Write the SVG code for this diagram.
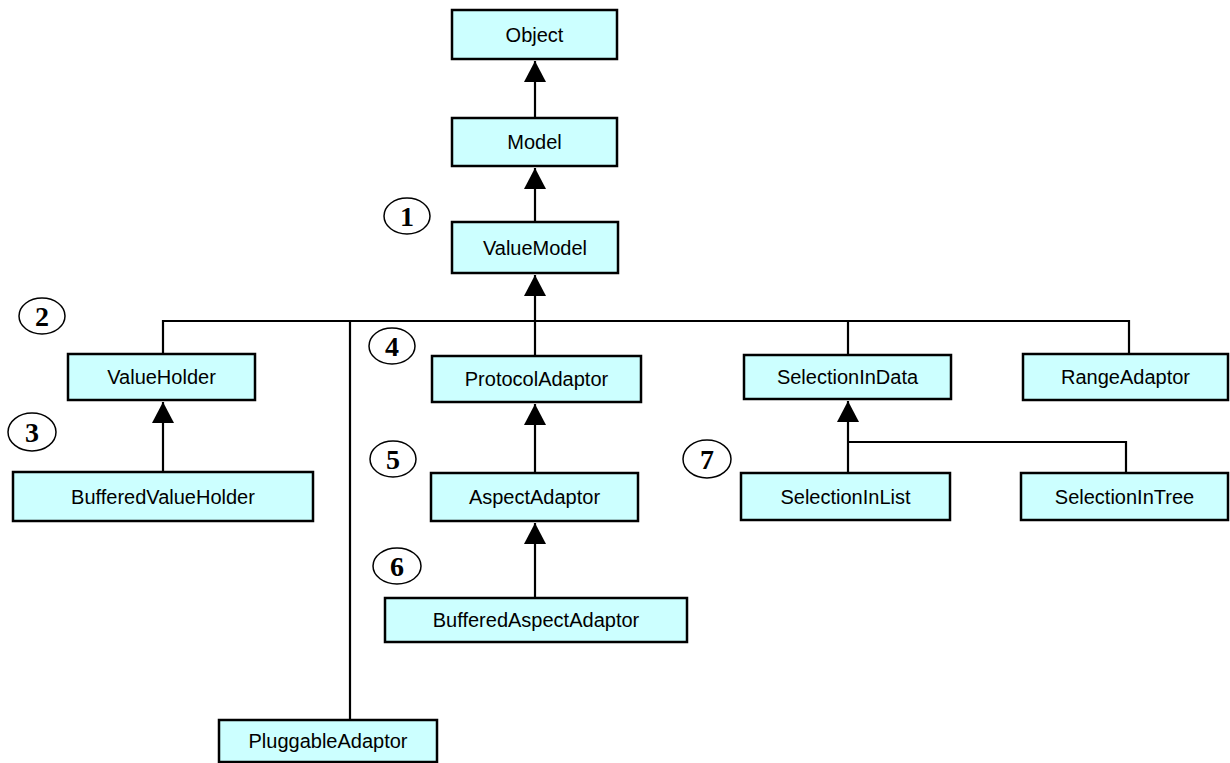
<svg xmlns="http://www.w3.org/2000/svg" width="1230" height="763" viewBox="0 0 1230 763">
  <style>
    .box rect { fill: #ccffff; stroke: #000; stroke-width: 2.5; }
    .box text { font-family: "Liberation Sans", Arial, sans-serif; font-size: 20px; fill: #000; text-anchor: middle; }
    .tag ellipse { fill: none; stroke: #000; stroke-width: 1.5; }
    .tag text { font-family: "Liberation Serif", "Times New Roman", serif; font-weight: bold; font-size: 28px; fill: #000; text-anchor: middle; }
    .wire { fill: none; stroke: #000; stroke-width: 2.2; }
    .inherit { marker-end: url(#tri); }
  </style>
  <defs>
    <marker id="tri" viewBox="0 0 21 22" refX="21" refY="11" markerWidth="21" markerHeight="22" markerUnits="userSpaceOnUse" orient="auto">
      <path d="M0,0 L21,11 L0,22 z" fill="#000"/>
    </marker>
  </defs>

  <rect width="1230" height="763" fill="#fff"/>

  <!-- connectors -->
  <g id="connectors">
    <line class="wire inherit" x1="535" y1="118" x2="535" y2="61"/>
    <line class="wire inherit" x1="535" y1="222" x2="535" y2="168"/>
    <line class="wire inherit" x1="535" y1="321" x2="535" y2="275"/>
    <polyline class="wire" points="163,354 163,321 1129,321 1129,354"/>
    <line class="wire" x1="535" y1="321" x2="535" y2="356"/>
    <line class="wire" x1="350" y1="321" x2="350" y2="720"/>
    <line class="wire" x1="848" y1="321" x2="848" y2="355"/>
    <line class="wire inherit" x1="163" y1="472" x2="163" y2="402"/>
    <line class="wire inherit" x1="535" y1="473" x2="535" y2="404"/>
    <line class="wire inherit" x1="535" y1="598" x2="535" y2="523"/>
    <line class="wire inherit" x1="848" y1="473" x2="848" y2="401"/>
    <polyline class="wire" points="848,442 1126,442 1126,473"/>
  </g>

  <!-- classes -->
  <g id="Object" class="box"><rect x="452" y="10" width="165" height="49"/><text x="534.5" y="41.5">Object</text></g>
  <g id="Model" class="box"><rect x="452" y="118" width="165" height="48"/><text x="534.5" y="149">Model</text></g>
  <g id="ValueModel" class="box"><rect x="452" y="222" width="166" height="51"/><text x="535" y="254.5">ValueModel</text></g>
  <g id="ValueHolder" class="box"><rect x="68" y="354" width="187" height="46"/><text x="161.5" y="384">ValueHolder</text></g>
  <g id="BufferedValueHolder" class="box"><rect x="13" y="472" width="300" height="49"/><text x="163" y="503.5">BufferedValueHolder</text></g>
  <g id="ProtocolAdaptor" class="box"><rect x="432" y="356" width="209" height="46"/><text x="536.5" y="386">ProtocolAdaptor</text></g>
  <g id="AspectAdaptor" class="box"><rect x="431" y="473" width="207" height="48"/><text x="534.5" y="504">AspectAdaptor</text></g>
  <g id="BufferedAspectAdaptor" class="box"><rect x="385" y="598" width="302" height="44"/><text x="536" y="627">BufferedAspectAdaptor</text></g>
  <g id="PluggableAdaptor" class="box"><rect x="219" y="720" width="218" height="42"/><text x="328" y="748">PluggableAdaptor</text></g>
  <g id="SelectionInData" class="box"><rect x="744" y="355" width="207" height="44"/><text x="847.5" y="384">SelectionInData</text></g>
  <g id="RangeAdaptor" class="box"><rect x="1023" y="354" width="205" height="46"/><text x="1125.5" y="384">RangeAdaptor</text></g>
  <g id="SelectionInList" class="box"><rect x="741" y="473" width="209" height="47"/><text x="845.5" y="503.5">SelectionInList</text></g>
  <g id="SelectionInTree" class="box"><rect x="1021" y="473" width="207" height="47"/><text x="1124.5" y="503.5">SelectionInTree</text></g>

  <!-- numbered callouts -->
  <g id="tag1" class="tag"><ellipse cx="407" cy="216" rx="23" ry="18"/><text x="407" y="226">1</text></g>
  <g id="tag2" class="tag"><ellipse cx="42" cy="316" rx="23" ry="18"/><text x="42" y="326">2</text></g>
  <g id="tag3" class="tag"><ellipse cx="32" cy="432" rx="24" ry="19"/><text x="32" y="442">3</text></g>
  <g id="tag4" class="tag"><ellipse cx="392" cy="346" rx="23" ry="18"/><text x="392" y="356">4</text></g>
  <g id="tag5" class="tag"><ellipse cx="393" cy="459" rx="23" ry="18"/><text x="393" y="469">5</text></g>
  <g id="tag6" class="tag"><ellipse cx="397" cy="566" rx="24" ry="18"/><text x="397" y="576">6</text></g>
  <g id="tag7" class="tag"><ellipse cx="707" cy="459" rx="24" ry="19"/><text x="707" y="469">7</text></g>
</svg>
